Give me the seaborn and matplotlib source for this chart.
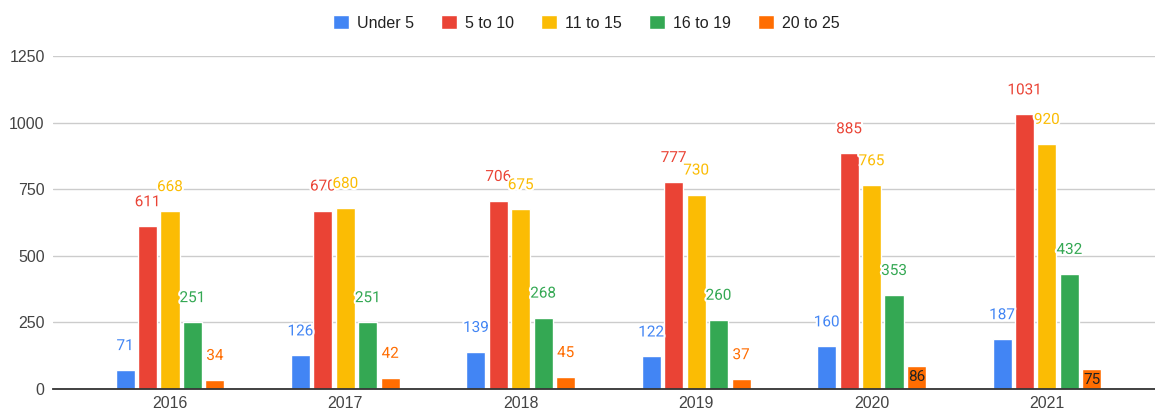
import matplotlib
matplotlib.use("Agg")
import matplotlib.pyplot as plt
import matplotlib.patheffects as pe
import seaborn as sns
import pandas as pd

# data
years = ["2016", "2017", "2018", "2019", "2020", "2021"]
groups = ["Under 5", "5 to 10", "11 to 15", "16 to 19", "20 to 25"]
under_5 = [71, 126, 139, 122, 160, 187]
age_5_10 = [611, 670, 706, 777, 885, 1031]
age_11_15 = [668, 680, 675, 730, 765, 920]
age_16_19 = [251, 251, 268, 260, 353, 432]
age_20_25 = [34, 42, 45, 37, 86, 75]

colors = ["#4285F4", "#EA4335", "#FBBC04", "#34A853", "#FF6D01"]

rows = []
for g, vals in zip(groups, [under_5, age_5_10, age_11_15, age_16_19, age_20_25]):
    for y, v in zip(years, vals):
        rows.append({"year": y, "group": g, "count": v})
df = pd.DataFrame(rows)

sns.set_theme(style="white")
plt.rcParams["font.family"] = ["Liberation Sans", "DejaVu Sans"]

fig = plt.figure(figsize=(11.55, 4.12), dpi=100)
ax = fig.add_axes([53 / 1155, 1 - 389 / 412, 1 - 53 / 1155, (389 - 56) / 412])

sns.barplot(
    data=df, x="year", y="count", hue="group",
    order=years, hue_order=groups, palette=colors,
    width=0.64, gap=0.15, saturation=1, errorbar=None, ax=ax,
)

ax.set_ylim(0, 1250)
ax.set_xlim(-0.667, 5.616)
ax.set_yticks([0, 250, 500, 750, 1000, 1250])
ax.yaxis.grid(True, color="#cccccc", linewidth=1)
ax.set_axisbelow(True)
for s in ["top", "right", "left"]:
    ax.spines[s].set_visible(False)
ax.spines["bottom"].set_color("#333333")
ax.spines["bottom"].set_linewidth(1.3)
ax.tick_params(axis="both", length=0, labelsize=11.5, colors="#444444", pad=5)
ax.tick_params(axis="y", pad=6)
ax.set_xlabel("")
ax.set_ylabel("")

# value labels; two small bars carry their label inside
inside = {("20 to 25", "2020"), ("20 to 25", "2021")}
for g, col, cont in zip(groups, colors, ax.containers):
    for yr, bar in zip(years, cont):
        h = bar.get_height()
        x = bar.get_x() + bar.get_width() / 2
        if (g, yr) in inside:
            ax.annotate(str(int(h)), (x, h), xytext=(0, -11), textcoords="offset pixels",
                        ha="center", va="center", fontsize=11, color="#222222",
                        family="Roboto", annotation_clip=False)
        else:
            ax.annotate(str(int(h)), (x, h), xytext=(0, 24), textcoords="offset pixels",
                        ha="center", va="center", fontsize=11, color=col,
                        family="Roboto", annotation_clip=False,
                        path_effects=[pe.withStroke(linewidth=3, foreground="white")])

handles, labels = ax.get_legend_handles_labels()
ax.legend(
    handles, labels, loc="center", bbox_to_anchor=(586 / 1155, 1 - 23 / 412),
    bbox_transform=fig.transFigure, ncol=5, frameon=False, fontsize=11.5,
    handlelength=1.0, handleheight=1.0, handletextpad=0.5, columnspacing=1.7,
    labelcolor="#222222",
)

fig.savefig("out.png", dpi=100)
